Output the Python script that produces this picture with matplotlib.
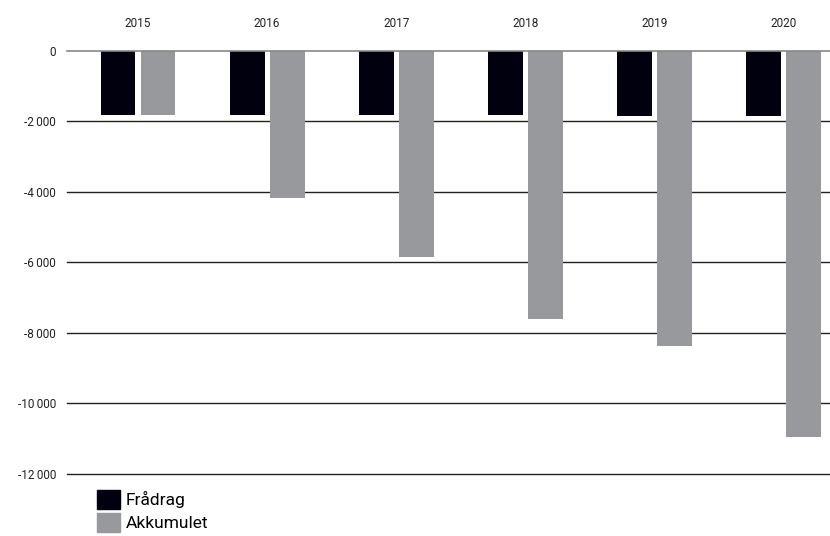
import matplotlib
matplotlib.use("Agg")
import matplotlib.pyplot as plt
import numpy as np
from matplotlib.patches import Patch

years = ["2015", "2016", "2017", "2018", "2019", "2020"]
fradrag = [-1830, -1830, -1830, -1830, -1850, -1850]
akkumulet = [-1830, -4170, -5860, -7610, -8370, -10960]
yticks = [0, -2000, -4000, -6000, -8000, -10000, -12000]
ytick_labels = ["0", "-2\u2009000", "-4\u2009000", "-6\u2009000", "-8\u2009000",
                "-10\u2009000", "-12\u2009000"]

plt.rcParams['font.family'] = ['Roboto', 'DejaVu Sans']

fig = plt.figure(figsize=(8.30, 5.36), dpi=100)
ax = fig.add_axes([67/830, 1-474/536, (830-67)/830, (474-50.5)/536])

x = np.arange(len(years))
w = 0.27
off = 0.155
ax.bar(x - off, fradrag, width=w, color="#00000f", zorder=3, label="Frådrag")
ax.bar(x + off, akkumulet, width=w, color="#98999c", zorder=3, label="Akkumulet")

for t in yticks:
    if t == 0:
        ax.axhline(t, color="#888888", lw=1.2, zorder=4, clip_on=False)
    else:
        ax.axhline(t, color="#222222", lw=1.0, zorder=2, clip_on=False)

ax.set_xlim(-0.55, 5.36)
ax.set_ylim(-12000, 0)
ax.set_yticks(yticks)
ax.set_yticklabels(ytick_labels, fontsize=8.5, color="#222222")
ax.xaxis.tick_top()
ax.set_xticks(x)
ax.set_xticklabels(years, fontsize=8.5, color="#222222")
ax.tick_params(axis="both", length=0)
ax.tick_params(axis="y", pad=8)
ax.tick_params(axis="x", pad=15)
for s in ax.spines.values():
    s.set_visible(False)

handles = [Patch(color="#00000f"), Patch(color="#98999c")]
fig.legend(handles, ["Frådrag", "Akkumulet"], loc="upper left",
           bbox_to_anchor=(97/830, 1-490/536), frameon=False, fontsize=12.5,
           borderpad=0, borderaxespad=0,
           handlelength=1.32, handleheight=1.32, handletextpad=0.35, labelspacing=0.2)

fig.savefig("out.png", dpi=100)
